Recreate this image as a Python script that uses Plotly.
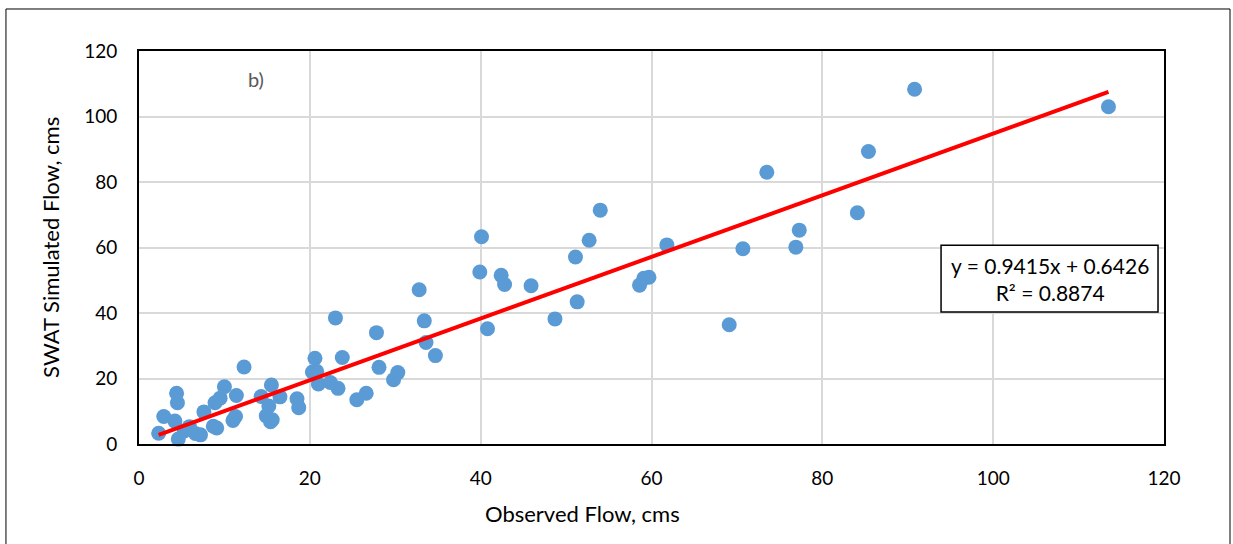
import plotly.graph_objects as go

observed = [2.3, 2.9, 4.4, 4.5, 4.2, 4.6, 5.3, 5.9, 6.6, 7.2, 7.6, 8.7, 8.9, 9.1, 10.0, 9.5,
            11.4, 11.0, 11.3, 12.3, 14.3, 15.5, 16.5, 15.2, 14.9, 15.6, 15.4, 18.5, 18.7,
            20.6, 20.3, 20.8, 21.0, 22.4, 23.0, 23.3, 23.8, 25.5, 26.6, 27.8, 28.1, 29.8, 30.3,
            32.8, 33.4, 33.6, 34.7, 39.9, 40.1, 40.8, 42.4, 42.8, 45.9, 48.7, 51.1, 51.3,
            52.7, 54.0, 58.6, 59.1, 59.7, 61.8, 69.1, 70.7, 73.5, 76.9, 77.3, 84.1, 85.4,
            90.8, 113.5]
simulated = [3.3, 8.4, 15.5, 12.6, 7.0, 1.5, 4.0, 5.3, 3.2, 2.8, 9.8, 5.4, 12.6, 4.9, 17.5, 14.0,
             14.8, 7.2, 8.4, 23.5, 14.5, 18.0, 14.4, 11.6, 8.6, 7.4, 6.8, 13.8, 11.1,
             26.2, 22.0, 22.2, 18.3, 18.8, 38.5, 17.0, 26.4, 13.5, 15.5, 34.0, 23.4, 19.6, 21.8,
             47.1, 37.6, 31.0, 27.0, 52.5, 63.3, 35.2, 51.5, 48.7, 48.3, 38.2, 57.1, 43.4,
             62.2, 71.4, 48.5, 50.6, 50.9, 60.8, 36.4, 59.6, 83.0, 60.1, 65.3, 70.6, 89.3,
             108.3, 103.0]

slope = 0.9415
intercept = 0.6426
r2 = 0.8874
x_ticks = [0, 20, 40, 60, 80, 100, 120]
y_ticks = [0, 20, 40, 60, 80, 100, 120]

FONT = "Lato"
x_line = [min(observed), max(observed)]
y_line = [slope * v + intercept for v in x_line]

fig = go.Figure()
fig.add_trace(go.Scatter(x=observed, y=simulated, mode="markers",
                         marker=dict(size=15, color="#5B9BD5"), hoverinfo="x+y",
                         showlegend=False, cliponaxis=False))
fig.add_trace(go.Scatter(x=x_line, y=y_line, mode="lines",
                         line=dict(color="#FF0000", width=4), showlegend=False))

axis_common = dict(showgrid=True, gridcolor="#D9D9D9", gridwidth=1.5,
                   zeroline=False, showline=True, linecolor="black", linewidth=2,
                   mirror=True, ticks="outside", ticklen=16, tickcolor="rgba(0,0,0,0)",
                   tickfont=dict(family=FONT, size=19, color="#000000"))

fig.update_xaxes(range=[0, 120], tickvals=x_ticks, **axis_common)
fig.update_yaxes(range=[0, 120], tickvals=y_ticks, **axis_common)

fig.add_annotation(x=0.433, y=-0.176, xref="paper", yref="paper", text="Observed Flow, cms",
                   showarrow=False, font=dict(family=FONT, size=22, color="#000000"),
                   xanchor="center", yanchor="middle")
fig.add_annotation(x=-0.087, y=0.501, xref="paper", yref="paper", text="SWAT Simulated Flow, cms",
                   showarrow=False, textangle=-90, font=dict(family=FONT, size=22, color="#000000"),
                   xanchor="center", yanchor="middle")
fig.add_annotation(x=13.7, y=111.4, text="b)", showarrow=False,
                   font=dict(family=FONT, size=20, color="#595959"))

fig.add_shape(type="rect", x0=93.9, x1=119.3, y0=40.3, y1=60.7,
              line=dict(color="black", width=1.5), fillcolor="white", layer="above")
fig.add_annotation(x=106.6, y=50.5,
                   text=f"y = {slope}x + {intercept}<br>R² = {r2}",
                   showarrow=False, font=dict(family=FONT, size=21, color="#000000"),
                   align="center")

fig.add_shape(type="rect", xref="paper", yref="paper", x0=-0.1298, x1=1.0644, y0=-0.4, y1=1.1069,
              line=dict(color="black", width=1))

fig.update_layout(width=1233, height=544, margin=dict(l=139, r=69, t=51, b=100),
                  plot_bgcolor="white", paper_bgcolor="white",
                  font=dict(family=FONT))

fig.write_html("out.html")
